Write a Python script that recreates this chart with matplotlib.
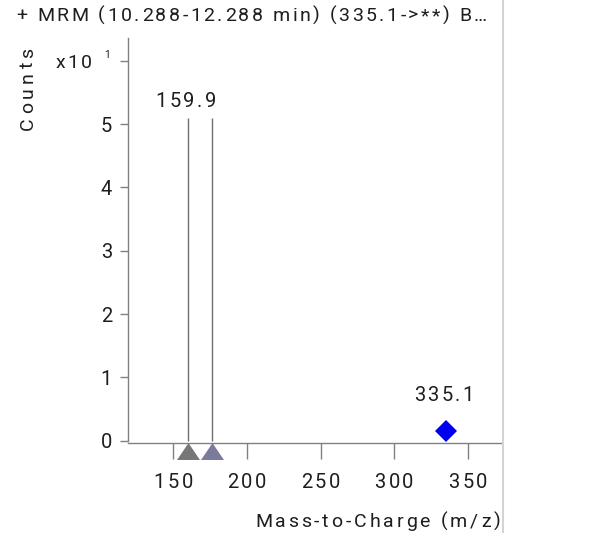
import numpy as np
import matplotlib.pyplot as plt
from matplotlib.lines import Line2D
from matplotlib import transforms, font_manager, ft2font

plt.rcParams['font.family'] = ['Roboto', 'DejaVu Sans']

# product ion peaks (counts in units of x10^1)
peak_mz = [159.9, 176.2]
peak_counts = [5.1, 5.1]
peak_marker_colors = ['#777777', '#7a7a9a']

# precursor ion
precursor_mz = [335.1]
precursor_counts = [0.15]

# peak labels
label_mz = [159.9, 335.1]
label_counts = [5.1, 0.15]
label_text = ['159.9', '335.1']
label_rise = [11, 30]   # pixels from the point up to the label baseline

xticks = [150, 200, 250, 300, 350]
yticks = [0, 1, 2, 3, 4, 5]

title = '+ MRM (10.288-12.288 min) (335.1->**) B\u2026'
xlabel = 'Mass-to-Charge (m/z)'
ylabel = 'Counts'

txt = '#1e1e1e'
axc = '#808080'
fs = 14.0      # title and axis labels
fs_num = 14.5  # numbers
W, H = 589, 533

fig = plt.figure(figsize=(W / 100, H / 100), dpi=100)
ax = fig.add_axes([128.3 / W, 90 / H, (500.7 - 128.3) / W, (495 - 90) / H])
pix = transforms.IdentityTransform()

FONT = font_manager.findfont('Roboto')


def advances(s, size):
    f = ft2font.FT2Font(FONT)
    f.set_size(size, 100)
    return [f.load_char(ord(c)).linearHoriAdvance / 65536 for c in s]


def spaced_text(x, y, s, size=fs_num, spacing=2.6, width=None, ha='left', rotation=0):
    # letter spaced text, one char at a time. x, y are pixels from the top left,
    # y is the baseline (for rotated text x is the baseline and y the middle)
    adv = advances(s, size)
    if width is not None:
        spacing = (width - sum(adv)) / (len(s) - 1)
    total = sum(adv) + spacing * (len(s) - 1)
    start = {'left': 0, 'center': total / 2, 'right': total}[ha]
    pen = 0
    for c, a in zip(s, adv):
        pos = pen - start + a / 2
        if rotation == 0:
            fig.text(x + pos, H - y, c, ha='center', va='baseline', fontsize=size,
                     color=txt, transform=pix)
        else:
            fig.text(x, H - y - total / 2 + pen + a / 2, c, ha='center', va='baseline',
                     rotation=90, rotation_mode='anchor', fontsize=size, color=txt,
                     transform=pix)
        pen += a + spacing


ax.set_xlim(119.4, 372.4)
ax.set_ylim(-0.036, 6.36)

for s in ['top', 'right']:
    ax.spines[s].set_visible(False)
for s in ['left', 'bottom']:
    ax.spines[s].set_color(axc)
    ax.spines[s].set_linewidth(1.0)
ax.spines['left'].set_bounds(0, 6.36)

ax.set_xticks(xticks)
ax.set_xticklabels([])
ax.set_yticks(yticks + [6])
ax.set_yticklabels([])
ax.tick_params(axis='x', direction='out', length=11.5, width=1.0, color=axc)
ax.tick_params(axis='y', direction='out', length=5.8, width=1.0, color=axc)

# tick labels, drawn letter spaced
for t in xticks:
    px = ax.transData.transform((t, 0))[0]
    spaced_text(px, 488, str(t), ha='center')
for t in yticks:
    py = H - ax.transData.transform((0, t))[1]
    spaced_text(112, py + 7.5, str(t), ha='right')

# stick spectrum
ax.vlines(peak_mz, 0, peak_counts, color='#6e6e6e', linewidth=1.0)

# triangles under the axis at each product ion
tri = [(0, 0.74), (-1, -0.74), (1, -0.74), (0, 0.74)]
below = transforms.offset_copy(ax.transData, fig=fig, x=0, y=-10.5, units='dots')
for mz, c in zip(peak_mz, peak_marker_colors):
    ax.plot([mz], [0], marker=tri, markersize=16.5, color=c, markeredgewidth=0,
            linestyle='none', transform=below, clip_on=False)

# precursor diamond
ax.plot(precursor_mz, precursor_counts, marker='D', markersize=11, color='#0000ee',
        markeredgewidth=0, linestyle='none', clip_on=False)

for mz, y, t, rise in zip(label_mz, label_counts, label_text, label_rise):
    px, py = ax.transData.transform((mz, y))
    spaced_text(px - 2, H - py - rise, t, spacing=2.4, ha='center')

# exponent at the top tick
spaced_text(92, 68, 'x10', size=fs, spacing=2.5, ha='right')
fig.text(104, H - 58.3, '1', ha='left', va='baseline', fontsize=7.5, color=txt, transform=pix)

spaced_text(33, 89, ylabel, size=fs, width=82, ha='center', rotation=90)
spaced_text(500, 527, xlabel, size=fs, width=245, ha='right')
spaced_text(16, 21, title, size=fs, width=471, ha='left')

# panel border on the right
fig.add_artist(Line2D([503 / W, 503 / W], [0, 1], color='#d4d4d4', linewidth=1.5))

fig.savefig('out.png', dpi=100)
